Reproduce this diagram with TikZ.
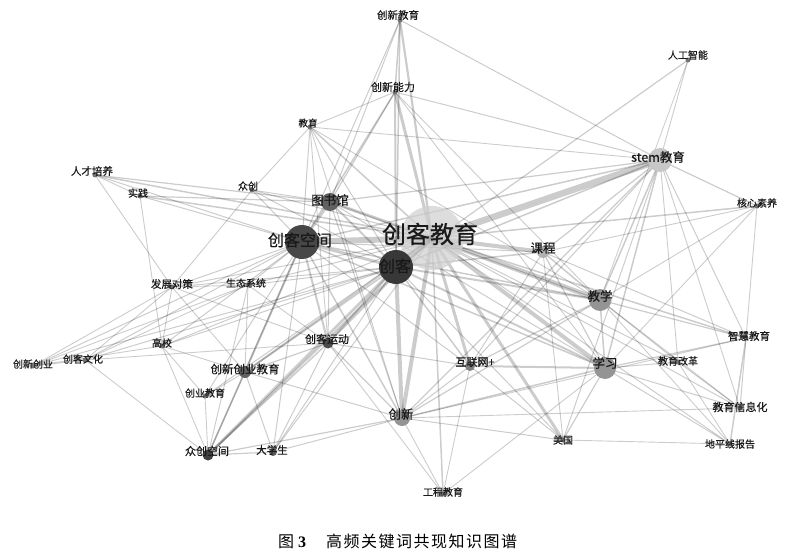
\documentclass[tikz,border=0pt]{standalone}
\usepackage{fontspec}
\setmainfont{Liberation Serif}
\newfontfamily\cjk{Noto Sans CJK SC}
\newfontfamily\cjkl{Noto Sans CJK SC}[FakeBold=0.6]
\begin{document}
\begin{tikzpicture}[x=1pt,y=-1pt,
  edge/.style={draw=black,draw opacity=0.2,line width=0.9pt},
  dot/.style={circle,inner sep=0pt,draw=none},
  lab/.style={inner sep=0pt,text=black!90,font=\cjkl\fontsize{#1}{#1}\selectfont},
  lab/.default=10]
\useasboundingbox (0,0) rectangle (789,556);
% node positions
\coordinate (cxjy) at (400,20);
\coordinate (rgzn) at (688,60);
\coordinate (cxnl) at (395,92);
\coordinate (jy) at (310,127);
\coordinate (rcpy) at (95,175);
\coordinate (sj) at (140,196);
\coordinate (zc) at (252,190);
\coordinate (tsg) at (330,202);
\coordinate (stem) at (660,160);
\coordinate (hxsy) at (757,206);
\coordinate (ckjy) at (432,238);
\coordinate (ckkj) at (302,242);
\coordinate (ck) at (396,267);
\coordinate (kc) at (543,252);
\coordinate (fzdc) at (172,287);
\coordinate (stxt) at (248,285);
\coordinate (jx) at (600,300);
\coordinate (zhjy) at (746,338);
\coordinate (ckyd) at (328,343);
\coordinate (gx) at (162,346);
\coordinate (cxcy) at (33,366);
\coordinate (ckwh) at (85,360);
\coordinate (cxcyjy) at (245,372);
\coordinate (hlw) at (470,366);
\coordinate (xx) at (605,368);
\coordinate (jygg) at (678,362);
\coordinate (cyjy) at (205,396);
\coordinate (cx) at (402,418);
\coordinate (jyxxh) at (740,408);
\coordinate (mg) at (563,440);
\coordinate (dpx) at (730,444);
\coordinate (zckj) at (208,455);
\coordinate (dxs) at (273,452);
\coordinate (gcjy) at (443,494);
% edges
\foreach \a/\b/\w in {
  ckjy/stem/6.5, ckjy/ckkj/6, ckjy/ck/6, ckjy/jx/5, ckjy/xx/4, ckjy/cx/4,
  ckjy/kc/4, ckjy/cxnl/3, ckjy/mg/3, ckjy/hlw/3, ckjy/tsg/3, ckjy/cxjy/2.2,
  ckjy/ckyd/2, ckjy/cxcyjy/2, ckjy/zckj/2, ckjy/jy/1.5, ckjy/zhjy/1.5,
  ckjy/hxsy/1.5, ckjy/rcpy/1.5, ckjy/sj/1.5, ckjy/zc/1, ckjy/fzdc/1,
  ckjy/stxt/1, ckjy/gx/1, ckjy/jygg/1, ckjy/jyxxh/1, ckjy/dpx/1,
  ckjy/gcjy/1.5, ckjy/cyjy/1, ckjy/dxs/1,
  ck/cx/4, ck/zckj/2.5, ck/ckkj/3, ck/tsg/2, ck/ckyd/2, ck/jx/2, ck/xx/2,
  ck/rgzn/1.2, ck/cxnl/2, ck/cxjy/1.5, ck/hlw/1.5, ck/mg/1, ck/cxcyjy/1.5,
  ck/fzdc/1, ck/stxt/1, ck/gx/1, ck/ckwh/1, ck/cxcy/1, ck/jy/1, ck/zc/1,
  ck/stem/1.5, ck/kc/1.5, ck/dxs/1,
  ckkj/tsg/2.5, ckkj/cxcyjy/2, ckkj/zckj/1.5, ckkj/ckyd/2, ckkj/cx/1.5,
  ckkj/jx/1.5, ckkj/xx/1.5, ckkj/stem/1.5, ckkj/rcpy/1, ckkj/sj/1,
  ckkj/zc/1, ckkj/jy/1, ckkj/cxnl/1.5, ckkj/cxjy/1, ckkj/fzdc/1,
  ckkj/stxt/1, ckkj/gx/1, ckkj/ckwh/1, ckkj/cxcy/1, ckkj/cyjy/1,
  ckkj/hlw/1, ckkj/kc/1, ckkj/dxs/1,
  cxjy/cxnl/1.5, cxjy/tsg/1, cxjy/stem/1, cxnl/stem/1, cxnl/tsg/1.2,
  cxnl/jy/0.9, cxnl/jx/0.9, cxnl/xx/0.9,
  jy/zc/0.9, jy/cx/0.9, jy/ckyd/0.9, jy/jx/0.9, jy/stem/0.9,
  rcpy/sj/0.9, rcpy/tsg/1.2, rcpy/fzdc/0.9, sj/tsg/1.2, sj/gx/0.9,
  zc/tsg/0.9, zc/fzdc/0.9, tsg/stem/1.2, tsg/jx/1, tsg/cx/1, tsg/ckyd/1, tsg/xx/1,
  stem/jx/1.5, stem/xx/1.5, stem/kc/1.2, stem/zhjy/1, stem/hxsy/1.2,
  stem/hlw/1, stem/cx/1.2, stem/mg/1, stem/jyxxh/0.9, stem/jygg/0.9,
  stem/rgzn/0.9, rgzn/jx/0.8,
  hxsy/jx/0.9, hxsy/xx/0.9, hxsy/zhjy/0.9, hxsy/kc/0.9,
  kc/jx/1.5, kc/xx/1.2, kc/zhjy/1, kc/hlw/1, kc/mg/0.9,
  jx/xx/1.5, jx/zhjy/1.2, jx/jygg/1, jx/jyxxh/1, jx/hlw/1.2, jx/cx/1.2, jx/dpx/0.9,
  xx/hlw/2, xx/cx/1.5, xx/mg/1.2, xx/jygg/1, xx/jyxxh/1, xx/dpx/1, xx/zhjy/1.2,
  zhjy/jyxxh/1, zhjy/dpx/1.5, zhjy/cx/0.9, jygg/jyxxh/0.9, jygg/dpx/0.9,
  jyxxh/cx/0.9, mg/dpx/0.9, mg/cx/1, mg/hlw/1,
  hlw/cx/1, hlw/ckyd/1, cx/gcjy/0.9, cx/ckyd/1.2, cx/dxs/1, cx/zckj/1.2,
  cx/cxcyjy/1, gcjy/hlw/0.9, gcjy/ckyd/0.9, gcjy/xx/0.9,
  ckyd/cxcyjy/1.2, ckyd/zckj/1.5, ckyd/dxs/1, ckyd/fzdc/0.9,
  cxcyjy/zckj/1.5, cxcyjy/dxs/1, cxcyjy/cyjy/1, cxcyjy/gx/0.9,
  cxcyjy/fzdc/0.9, cxcyjy/stxt/0.9, zckj/dxs/1.2, zckj/cyjy/0.9,
  zckj/gx/0.9, zckj/ckwh/0.9, cyjy/gx/0.9, ckwh/cxcy/0.9, ckwh/fzdc/0.9,
  ckwh/stxt/0.9, ckwh/ckyd/0.9, cxcy/fzdc/0.9, cxcy/stxt/0.9, cxcy/gx/0.9,
  fzdc/stxt/0.9, fzdc/gx/0.9, stxt/ckyd/0.9, stxt/zckj/0.9}
  \draw[edge,line width=\w pt] (\a) -- (\b);
% node circles
\node[dot,minimum size=64pt,fill=black!18,fill opacity=0.75] (ckjy-c) at (ckjy) {};
\node[dot,minimum size=34pt,fill=black!72] (ckkj-c) at (ckkj) {};
\node[dot,minimum size=34pt,fill=black!78] (ck-c) at (ck) {};
\node[dot,minimum size=18pt,fill=black!62] (tsg-c) at (tsg) {};
\node[dot,minimum size=24pt,fill=black!22] (stem-c) at (stem) {};
\node[dot,minimum size=22pt,fill=black!42] (jx-c) at (jx) {};
\node[dot,minimum size=22pt,fill=black!42] (xx-c) at (xx) {};
\node[dot,minimum size=12pt,fill=black!30] (kc-c) at (kc) {};
\node[dot,minimum size=16pt,fill=black!42] (cx-c) at (cx) {};
\node[dot,minimum size=11pt,fill=black!70] (ckyd-c) at (ckyd) {};
\node[dot,minimum size=12pt,fill=black!62] (cxcyjy-c) at (cxcyjy) {};
\node[dot,minimum size=10pt,fill=black!50] (hlw-c) at (hlw) {};
\node[dot,minimum size=11pt,fill=black!75] (zckj-c) at (zckj) {};
\node[dot,minimum size=8pt,fill=black!65] (dxs-c) at (dxs) {};
\foreach \n in {cxjy,cxnl,jy,rcpy,sj,zc,hxsy,fzdc,stxt,zhjy,gx,cxcy,ckwh,jygg,cyjy,jyxxh,mg,dpx,gcjy,rgzn}
  \node[dot,minimum size=5pt,fill=black!55] (\n-c) at (\n) {};
% labels
\node[lab=24] (ckjy-l) at (430,234) {创客教育};
\node[lab=16] (ckkj-l) at (300,240) {创客空间};
\node[lab=16] (ck-l) at (395,266) {创客};
\node[lab=12.5] (tsg-l) at (330,200) {图书馆};
\node[lab=12.5] (stem-l) at (658,157) {stem教育};
\node[lab=12.5] (kc-l) at (543,248) {课程};
\node[lab=12.5] (jx-l) at (600,296) {教学};
\node[lab=12.5] (xx-l) at (605,363) {学习};
\node[lab=12.5] (cx-l) at (401,414) {创新};
\node[lab=11] (hlw-l) at (475,362) {互联网+};
\node[lab=10.5] (zhjy-l) at (749,336) {智慧教育};
\node[lab=11] (jyxxh-l) at (740,407) {教育信息化};
\node[lab=11.5] (cxcyjy-l) at (245,369) {创新创业教育};
\node[lab=11] (ckyd-l) at (327,339) {创客运动};
\node[lab=11] (zckj-l) at (207,451) {众创空间};
\node[lab=10.5] (dxs-l) at (272,450) {大学生};
\node[lab=10] (mg-l) at (563,440) {美国};
\node[lab=10] (dpx-l) at (730,444) {地平线报告};
\node[lab=10] (jygg-l) at (678,361) {教育改革};
\node[lab=10] (gcjy-l) at (443,492) {工程教育};
\node[lab=10] (cyjy-l) at (205,393) {创业教育};
\node[lab=10] (gx-l) at (162,343) {高校};
\node[lab=10] (ckwh-l) at (83,359) {创客文化};
\node[lab=10] (cxcy-l) at (33,364) {创新创业};
\node[lab=10.5] (fzdc-l) at (172,284) {发展对策};
\node[lab=10] (stxt-l) at (246,283) {生态系统};
\node[lab=10] (zc-l) at (248,186) {众创};
\node[lab=10] (sj-l) at (138,193) {实践};
\node[lab=10.5] (rcpy-l) at (92,171) {人才培养};
\node[lab=9.5] (jy-l) at (308,123) {教育};
\node[lab=11] (cxnl-l) at (393,87) {创新能力};
\node[lab=10.5] (cxjy-l) at (398,15) {创新教育};
\node[lab=10] (rgzn-l) at (688,55) {人工智能};
\node[lab=10] (hxsy-l) at (757,203) {核心素养};
% caption
\node[inner sep=0pt,anchor=west] (cap) at (278,541)
  {\cjk\fontsize{16}{16}\selectfont 图\hspace{4pt}{\rmfamily\bfseries 3}\hspace{20pt}高\kern1.5pt 频\kern1.5pt 关\kern1.5pt 键\kern1.5pt 词\kern1.5pt 共\kern1.5pt 现\kern1.5pt 知\kern1.5pt 识\kern1.5pt 图\kern1.5pt 谱};
\end{tikzpicture}
\end{document}
